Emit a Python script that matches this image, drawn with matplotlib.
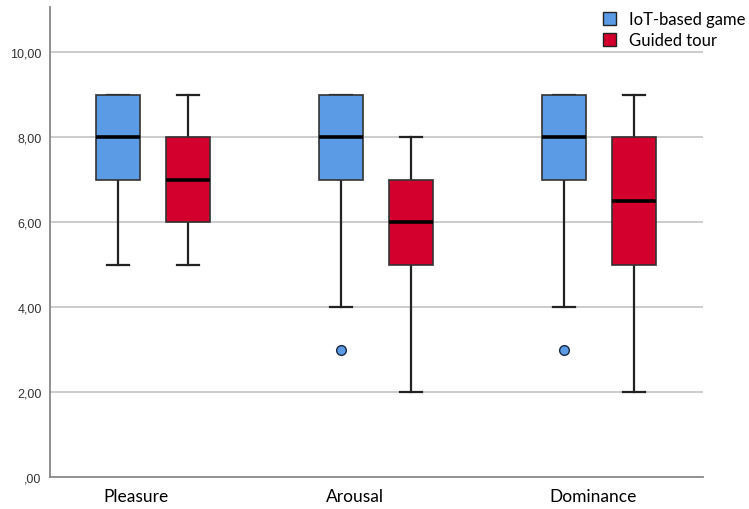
import matplotlib
matplotlib.use("Agg")
import matplotlib.pyplot as plt
from matplotlib.patches import Patch

categories = ["Pleasure", "Arousal", "Dominance"]
groups = ["IoT-based game", "Guided tour"]
colors = ["#5B9BE6", "#D3002D"]

# per group: [Pleasure, Arousal, Dominance]
q1 = {"IoT-based game": [7, 7, 7], "Guided tour": [6, 5, 5]}
med = {"IoT-based game": [8, 8, 8], "Guided tour": [7, 6, 6.5]}
q3 = {"IoT-based game": [9, 9, 9], "Guided tour": [8, 7, 8]}
wlo = {"IoT-based game": [5, 4, 4], "Guided tour": [5, 2, 2]}
whi = {"IoT-based game": [9, 9, 9], "Guided tour": [9, 8, 9]}
fliers = {"IoT-based game": [[], [3], [3]], "Guided tour": [[], [], []]}

fig = plt.figure(figsize=(7.49, 5.10), dpi=100)
ax = fig.add_axes([0.0668, 0.0627, 0.8718, 0.9213])

centers = [0.5, 1.5, 2.5]
offsets = [-0.157, 0.157]
for g, (grp, col) in enumerate(zip(groups, colors)):
    stats = []
    for i in range(len(categories)):
        stats.append(dict(q1=q1[grp][i], med=med[grp][i], q3=q3[grp][i],
                          whislo=wlo[grp][i], whishi=whi[grp][i],
                          fliers=fliers[grp][i]))
    ax.bxp(stats, positions=[c + offsets[g] for c in centers], widths=0.197,
           patch_artist=True, showfliers=True,
           boxprops=dict(facecolor=col, edgecolor="#333333", linewidth=1.2),
           medianprops=dict(color="black", linewidth=2.6),
           whiskerprops=dict(color="#222222", linewidth=1.6),
           capprops=dict(color="#222222", linewidth=1.6),
           capwidths=0.1,
           flierprops=dict(marker="o", markerfacecolor=col, markeredgecolor="#1a2a40",
                           markersize=7, markeredgewidth=1.0),
           zorder=3)
for p in ax.patches:
    p.set_zorder(4)
for ln in ax.lines:
    if ln.get_linewidth() > 2.5:
        ln.set_zorder(5)

ax.set_xlim(0.038, 2.966)
ax.set_ylim(0, 11.06)
ax.set_yticks([0, 2, 4, 6, 8, 10])
ax.set_yticklabels([",00", "2,00", "4,00", "6,00", "8,00", "10,00"],
                   family="Liberation Sans", fontsize=9, color="#333333")
ax.set_xticks([c - 0.224 for c in centers])
ax.set_xticklabels(categories, family="Lato", fontsize=12.5, color="black", ha="left")
ax.tick_params(axis="x", length=0, pad=8)
ax.tick_params(axis="y", length=0, pad=6)
for y in [2, 4, 6, 8, 10]:
    ax.axhline(y, color="#c8c8c8", linewidth=1.3, zorder=1)
for s in ["top", "right"]:
    ax.spines[s].set_visible(False)
for s in ["left", "bottom"]:
    ax.spines[s].set_color("#888888")
    ax.spines[s].set_linewidth(1.3)

handles = [Patch(facecolor=c, edgecolor="#222222", label=l) for l, c in zip(groups, colors)]
leg = fig.legend(handles=handles, loc="upper left", bbox_to_anchor=(603 / 749, 0.976),
                 frameon=False, prop=dict(family="Lato", size=12), borderpad=0,
                 borderaxespad=0,
                 handlelength=0.75, handleheight=0.75, handletextpad=0.8,
                 labelspacing=0.3)

fig.savefig("out.png", dpi=100)
